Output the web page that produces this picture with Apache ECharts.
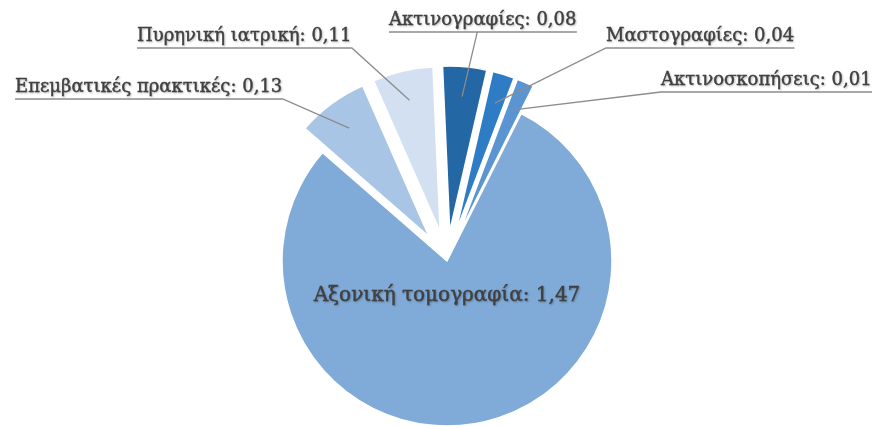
<!DOCTYPE html>
<html>
<head>
<meta charset="utf-8">
<script src="https://cdn.jsdelivr.net/npm/echarts@6/dist/echarts.min.js"></script>
<style>
  html, body { margin: 0; padding: 0; background: #ffffff; }
  #chart { width: 880px; height: 426px; }
</style>
</head>
<body>
<div id="chart"></div>
<script>
// Slices, clockwise from just left of 12 o'clock
const categories = [
  'Ακτινογραφίες',
  'Μαστογραφίες',
  'Ακτινοσκοπήσεις',
  'Αξονική τομογραφία',
  'Επεμβατικές πρακτικές',
  'Πυρηνική ιατρική'
];
const values = [0.08, 0.04, 0.01, 1.47, 0.13, 0.11];
const sliceColors = ['#2367A4', '#2E7CC5', '#5B95D1', '#80ABD8', '#A9C5E6', '#D2E0F2'];
const pulledOut = [true, true, true, false, true, true];

const FONT = 'DejaVu Serif';
const TEXT_COLOR = '#404040';
const LINE_COLOR = '#8c8c8c';
const PIE_CENTER = [447, 261];
const PIE_RADIUS = 165;
const PULL = 30;   // explosion distance of the pulled-out slices

// Where each outside label sits: left edge, underline y, and where the leader joins the underline
const labelSpots = {
  0: { x: 389, y: 32, join: 0.47 },
  1: { x: 606, y: 48, join: 0 },
  2: { x: 661, y: 92, join: 0 },
  4: { x: 15,  y: 99, join: 1 },
  5: { x: 137, y: 48, join: 1 }
};
const centerLabel = { x: 447, y: 296 };

const fmt = v => v.toFixed(2).replace('.', ',');

const chart = echarts.init(document.getElementById('chart'), null, { renderer: 'canvas' });

const pieBase = {
  type: 'pie',
  center: PIE_CENTER,
  radius: PIE_RADIUS,
  startAngle: 92.5,
  clockwise: true,
  minAngle: 6,
  avoidLabelOverlap: false,
  emphasis: { disabled: true }
};

// The visible slices, with the small ones pulled out
const sliceSeries = Object.assign({}, pieBase, {
  name: 'slices',
  selectedMode: 'multiple',
  selectedOffset: PULL,
  itemStyle: { borderColor: '#ffffff', borderWidth: 1.5 },
  label: { show: false },
  labelLine: { show: false },
  data: categories.map((name, i) => ({
    name: name,
    value: values[i],
    selected: pulledOut[i],
    itemStyle: { color: sliceColors[i] }
  }))
});

// Same layout, no fill: carries the labels and their underlined leaders
const labelSeries = Object.assign({}, pieBase, {
  name: 'labels',
  silent: true,
  z: 3,
  itemStyle: { color: 'rgba(0,0,0,0)', borderWidth: 0 },
  label: {
    show: true,
    position: 'outside',
    fontFamily: FONT,
    fontSize: 18,
    color: TEXT_COLOR,
    lineHeight: 22,
    textBorderColor: TEXT_COLOR,
    textBorderWidth: 0.4,
    textShadowColor: 'rgba(0,0,0,0.22)',
    textShadowBlur: 2,
    textShadowOffsetX: 1,
    textShadowOffsetY: 1,
    formatter: p => p.name + ': ' + fmt(p.value)
  },
  labelLine: {
    show: true,
    length: 20,
    length2: 20,
    lineStyle: { color: LINE_COLOR, width: 1.3 }
  },
  labelLayout: function (params) {
    const i = params.dataIndex;
    if (i === 3) {
      return { x: centerLabel.x, y: centerLabel.y, align: 'center', verticalAlign: 'middle' };
    }
    const spot = labelSpots[i];
    if (!spot) return {};
    // the arc point of the unshifted slice lies PULL px inside the pulled-out one
    const inner = params.labelLinePoints[0].slice();
    const w = params.labelRect.width;
    const left = spot.x, right = spot.x + w;
    const joinX = left + w * spot.join;
    return {
      x: left,
      y: spot.y - 1,
      align: 'left',
      verticalAlign: 'bottom',
      labelLinePoints: [inner, [joinX, spot.y], [left, spot.y], [right, spot.y]]
    };
  },
  data: categories.map((name, i) => {
    const item = { name: name, value: values[i] };
    if (i === 3) {
      item.label = { position: 'inside', fontSize: 20 };
      item.labelLine = { show: false };
    }
    return item;
  })
});

chart.setOption({
  animation: false,
  backgroundColor: '#ffffff',
  series: [sliceSeries, labelSeries]
});
</script>
</body>
</html>
